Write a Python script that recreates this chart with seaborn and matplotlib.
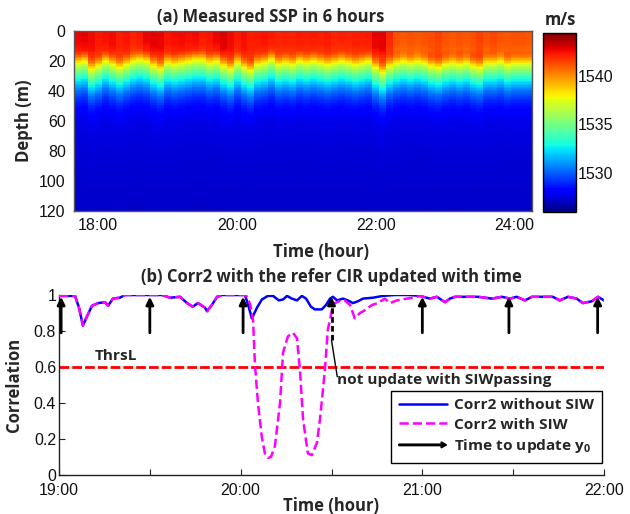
import numpy as np
import pandas as pd
import matplotlib
matplotlib.use("Agg")
import matplotlib.pyplot as plt
import matplotlib.patches as mpatches
from matplotlib.lines import Line2D
from matplotlib.legend_handler import HandlerPatch
import seaborn as sns

# ---------------- (a) measured SSP ----------------
ssp_start_hour = 17.65          # left edge of first column
ssp_step_hour = 0.1             # column width (6 min)
# mean sound-speed profile (m, m/s)
prof_depth = [0, 8, 14, 17, 19.5, 22, 24.5, 27, 30, 33, 36, 40, 45, 50, 55, 60, 80, 100, 120]
prof_speed = [1542.0, 1541.9, 1541.5, 1540.4, 1538.9, 1537.4, 1536.1, 1535.0, 1533.8,
              1532.6, 1531.5, 1530.3, 1529.2, 1528.5, 1528.0, 1527.7, 1527.4, 1527.3, 1527.2]
# thermocline vertical displacement per column (m, + = deeper)
thermo_shift = [0, -1, 4, 2, -1, 1, 3, 1, -1, -2, -1, 2, 4, 0, 1, 0, -1, -2, -2, 0,
                -1, 2, 4, 0, 3, 5, 1, 0, -2, 1, 0, 1, -1, 0, -1, 0, 1, 0, -1, 0,
                1, 0, -1, 3, 6, 2, 0, -1, 0, -1, 0, 2, 3, 1, 0, 1, 0, 2, 3, 0,
                0, -1, 1, 0, 0, 0]
# near-surface speed anomaly per column (m/s)
surface_anom = [0.7, 0.8, 0.6, 0.3, 0.5, 0.6, 0.2, 0.4, 0.1, 0.3, 0.7, 0.8, 0.7, 0.4, 0.5,
                0.6, 0.5, 0.6, 0.3, 0.4, 0.7, 0.9, 0.6, 0.3, 0.5, 0.2, 0.3, 0.4, 0.3, 0.1,
                0.2, 0.1, 0.3, 0.2, 0.3, 0.2, 0.3, 0.1, 0.2, 0.1, 0.2, 0.2, 0.3, 0.7, 0.8,
                0.0, -0.8, -0.9, -0.8, -0.9, -0.8, -0.7, -0.5, -0.8, -0.9, -0.8, -0.9, -0.8,
                -0.5, -0.8, -0.6, -0.8, -0.9, -0.8, -0.8, -0.9]
depth_ticks = [0, 20, 40, 60, 80, 100, 120]
ssp_hour_ticks = [18, 20, 22, 24]
ssp_hour_labels = ["18:00", "20:00", "22:00", "24:00"]
cbar_ticks = [1530, 1535, 1540]
ssp_vmin, ssp_vmax = 1526.0, 1544.4

# ---------------- (b) correlation ----------------
t_common_a = [0, 5.3, 6.6, 7.9, 9.2, 10.9, 12.9, 15.2, 16.2, 17.8, 20.1, 21.8, 34.0, 36.7,
              40.0, 42.3, 44.2, 45.9, 48.2, 48.9, 50.5, 52.2, 53.8, 61.4]
c_common_a = [0.995, 0.995, 0.93, 0.83, 0.88, 0.94, 0.955, 0.96, 0.94, 0.98, 0.985, 1.0,
              1.0, 0.985, 0.99, 0.955, 0.935, 0.955, 0.93, 0.91, 0.945, 0.99, 1.0, 1.0]
t_mid_without = [62.4, 63.7, 65.4, 67.0, 69.0, 70.7, 72.6, 74.0, 75.3, 76.9, 78.6, 80.2,
                 81.6, 83.2, 84.5, 86.8, 88.2, 89.5, 90.5, 91.8, 93.8, 95.4, 97.1, 98.7,
                 100.4, 103.7, 107.0, 110.9, 115.9]
c_mid_without = [0.95, 0.87, 0.93, 0.975, 0.995, 0.995, 0.97, 0.975, 0.995, 0.98, 0.97,
                 0.995, 0.98, 0.935, 0.92, 0.92, 0.945, 0.98, 0.99, 0.97, 0.98, 0.97, 0.955,
                 0.965, 0.98, 0.985, 0.995, 1.0, 1.0]
t_mid_with = [62.1, 63.1, 64.1, 64.7, 65.7, 67.0, 68.0, 69.0, 70.0, 71.3, 73.0, 74.0, 75.6,
              77.3, 78.6, 79.6, 80.6, 82.2, 83.5, 85.2, 86.2, 87.8, 88.8, 89.5, 90.5, 91.8,
              93.1, 94.4, 96.1, 97.7, 99.4, 101.0, 103.4, 105.3, 107.6, 109.3, 111.6, 114.9,
              118.2]
c_mid_with = [0.99, 0.95, 0.86, 0.62, 0.40, 0.21, 0.12, 0.095, 0.10, 0.16, 0.40, 0.68, 0.77,
              0.79, 0.76, 0.58, 0.31, 0.12, 0.11, 0.18, 0.31, 0.58, 0.81, 0.86, 0.95, 0.96,
              0.97, 0.97, 0.945, 0.87, 0.90, 0.915, 0.945, 0.955, 0.98, 0.955, 0.97, 0.98,
              0.99]
t_common_b = [119.2, 122.5, 124.8, 127.5, 129.1, 130.8, 135.7, 138.4, 143.0, 146.3, 148.9,
              151.2, 153.9, 156.2, 163.1, 165.4, 168.1, 171.0, 173.0, 176.0, 178.0, 180.0]
c_common_b = [0.995, 0.98, 0.99, 0.96, 0.98, 0.99, 0.99, 0.99, 0.98, 0.99, 0.98, 0.99, 0.97,
              0.99, 0.99, 0.97, 0.99, 0.98, 0.955, 0.965, 0.99, 0.97]
update_times = [0.7, 30.0, 60.8, 120.0, 148.6, 177.9]
not_update_time = 90.0
threshold = 0.6
corr_min_ticks = [0, 30, 60, 90, 120, 150, 180]
corr_min_labels = ["19:00", "", "20:00", "", "21:00", "", "22:00"]
corr_yticks = [0, 0.2, 0.4, 0.6, 0.8, 1.0]
corr_ylabels = ["0", "0.2", "0.4", "0.6", "0.8", "1"]

# ---------------- style ----------------
sns.set_style("white")
plt.rcParams["font.family"] = ["Liberation Sans", "DejaVu Sans"]
BOLD = ["Open Sans", "Lato", "DejaVu Sans"]
plt.rcParams["mathtext.fontset"] = "custom"
plt.rcParams["mathtext.bf"] = "Open Sans:bold"
plt.rcParams["mathtext.rm"] = "Open Sans:bold"
TICK_FS = 11.5
LAB_FS = 12
SMALL_FS = 11.1

fig = plt.figure(figsize=(6.3, 5.14), dpi=100)
W, H = 630.0, 514.0
def fpos(l, t, r, b):
    return [l / W, 1 - b / H, (r - l) / W, (b - t) / H]

ax1 = fig.add_axes(fpos(74, 31, 532, 211))
cax = fig.add_axes(fpos(543, 33, 576, 212))
ax2 = fig.add_axes(fpos(59, 295, 604, 475))

# ---- build SSP field (rows: depth centres 0.5..119.5, cols: time) ----
n_cols = len(thermo_shift)
col_hours = ssp_start_hour + ssp_step_hour * (np.arange(n_cols) + 0.5)
depth_centres = np.arange(120) + 0.5
shift = np.asarray(thermo_shift, float)
anom = np.asarray(surface_anom, float)
surf_w = np.clip((18.0 - depth_centres) / 6.0, 0, 1)
field = np.empty((len(depth_centres), n_cols))
for j in range(n_cols):
    field[:, j] = np.interp(depth_centres - shift[j], prof_depth, prof_speed) + anom[j] * surf_w
ssp_df = pd.DataFrame(field, index=depth_centres, columns=np.round(col_hours, 2))

sns.heatmap(ssp_df, ax=ax1, cmap="jet", vmin=ssp_vmin, vmax=ssp_vmax, cbar_ax=cax,
            cbar_kws={"ticks": cbar_ticks}, xticklabels=False, yticklabels=False,
            rasterized=True)
ax1.set_yticks(depth_ticks)
ax1.set_yticklabels([str(d) for d in depth_ticks])
ax1.set_xticks([(h - ssp_start_hour) / ssp_step_hour for h in ssp_hour_ticks])
ax1.set_xticklabels(ssp_hour_labels)
ax1.tick_params(axis="both", direction="in", length=3, labelsize=TICK_FS, colors="#222222",
                labelcolor="#111111", left=True, bottom=True)
ax1.tick_params(axis="y", pad=6)
ax1.tick_params(axis="x", pad=5)
for s in ax1.spines.values():
    s.set_visible(True)
    s.set_color("#555555")
    s.set_linewidth(1.0)
ax1.set_ylabel("Depth (m)", fontsize=LAB_FS, fontweight="bold", family=BOLD)
ax1.yaxis.set_label_coords(-0.0895, 0.5)
ax1.set_xlabel("Time (hour)", fontsize=LAB_FS, fontweight="bold", family=BOLD)
ax1.xaxis.set_label_coords(0.539, -0.175)
ax1.text(0.43, 1.078, "(a) Measured SSP in 6 hours", transform=ax1.transAxes, ha="center",
         va="center", fontsize=LAB_FS, fontweight="bold", family=BOLD)

cax.tick_params(direction="in", length=3, labelsize=TICK_FS, pad=1, colors="#111111")
cb = ax1.collections[0].colorbar
cb.outline.set_visible(True)
cb.outline.set_linewidth(1.0)
cb.outline.set_edgecolor("black")
fig.text(560 / W, 1 - 20 / H, "m/s", ha="center", va="center", fontsize=LAB_FS,
         fontweight="bold", family=BOLD)

# ---- (b) correlation ----
t_without = t_common_a + t_mid_without + t_common_b
corr_without = c_common_a + c_mid_without + c_common_b
t_with = t_common_a + t_mid_with + t_common_b
corr_with = c_common_a + c_mid_with + c_common_b

ax2.axhline(threshold, color="#FF0000", lw=2.0, ls=(0, (3.5, 1.1)), zorder=1)
sns.lineplot(x=t_without, y=corr_without, ax=ax2, color="#0000FF", lw=1.8, sort=False,
             estimator=None, zorder=2)
sns.lineplot(x=t_with, y=corr_with, ax=ax2, color="#FF00FF", lw=1.8, sort=False,
             estimator=None, linestyle="--", zorder=3)

for t in update_times:
    ax2.annotate("", xy=(t, 0.99), xytext=(t, 0.79),
                 arrowprops=dict(arrowstyle="-|>", color="black", lw=2.0,
                                 mutation_scale=11, shrinkA=0, shrinkB=0), zorder=5)
ax2.plot([not_update_time, not_update_time], [0.75, 0.95], color="black", lw=2.0,
         ls=(0, (2.0, 1.2)), zorder=5)
ax2.annotate("", xy=(not_update_time, 0.99), xytext=(not_update_time, 0.94),
             arrowprops=dict(arrowstyle="-|>", color="black", lw=2.0,
                             mutation_scale=11, shrinkA=0, shrinkB=0), zorder=5)
ax2.plot([not_update_time, 91.9], [0.75, 0.546], color="black", lw=1.0, zorder=5)
ax2.text(91.9, 0.565, "not update with SIWpassing", ha="left", va="top", fontsize=SMALL_FS,
         fontweight="bold", family=BOLD)
ax2.text(11.9, 0.62, "ThrsL", ha="left", va="bottom", fontsize=SMALL_FS,
         fontweight="bold", family=BOLD)

ax2.set_xlim(0, 180)
ax2.set_ylim(0, 1)
ax2.set_xticks(corr_min_ticks)
ax2.set_xticklabels(corr_min_labels)
ax2.set_yticks(corr_yticks)
ax2.set_yticklabels(corr_ylabels)
ax2.tick_params(axis="both", direction="in", length=4, labelsize=TICK_FS, colors="#222222",
                labelcolor="#111111", left=True, bottom=True)
ax2.tick_params(axis="y", pad=2)
ax2.tick_params(axis="x", pad=6)
ax2.spines["top"].set_visible(False)
ax2.spines["right"].set_visible(False)
for s in ("left", "bottom"):
    ax2.spines[s].set_color("#222222")
    ax2.spines[s].set_linewidth(1.0)
ax2.set_ylabel("Correlation", fontsize=LAB_FS, fontweight="bold", family=BOLD)
ax2.yaxis.set_label_coords(-0.066, 0.5)
ax2.set_xlabel("Time (hour)", fontsize=LAB_FS, fontweight="bold", family=BOLD)
ax2.xaxis.set_label_coords(0.499, -0.125)
ax2.text(0.499, 1.1, "(b) Corr2 with the refer CIR updated with time", transform=ax2.transAxes,
         ha="center", va="center", fontsize=LAB_FS, fontweight="bold", family=BOLD)

def make_arrow(legend, orig_handle, xdescent, ydescent, width, height, fontsize):
    return mpatches.FancyArrow(0, 0.5 * height, width, 0, length_includes_head=True,
                               width=0.14 * height, head_width=0.55 * height,
                               head_length=0.5 * height, color="black")

h_blue = Line2D([], [], color="#0000FF", lw=1.8)
h_mag = Line2D([], [], color="#FF00FF", lw=1.8, ls="--")
h_arrow = mpatches.FancyArrow(0, 0, 1, 0, color="black")
leg = ax2.legend([h_blue, h_mag, h_arrow],
                 ["Corr2 without SIW", "Corr2 with SIW", r"Time to update $\mathbf{y_0}$"],
                 handler_map={mpatches.FancyArrow: HandlerPatch(patch_func=make_arrow)},
                 loc="lower right", bbox_to_anchor=(0.9963, 0.0667), borderaxespad=0,
                 prop={"family": BOLD, "weight": "bold", "size": SMALL_FS}, handlelength=3.1,
                 handletextpad=0.5, labelspacing=0.35, fancybox=False, framealpha=1,
                 edgecolor="black", borderpad=0.5)
leg.get_frame().set_linewidth(1.0)

fig.savefig("out.png", dpi=100)
